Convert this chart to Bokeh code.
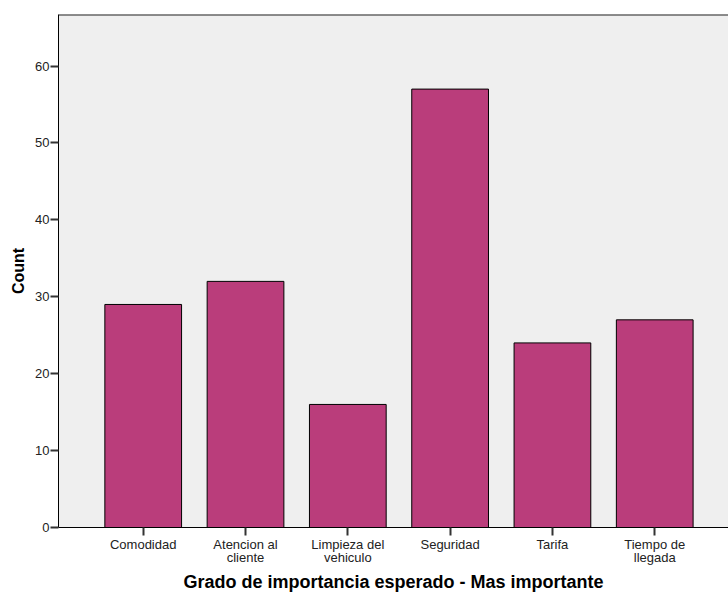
from bokeh.plotting import figure
from bokeh.models import Range1d, FixedTicker, Span, ColumnDataSource
from bokeh.embed import file_html
from bokeh.resources import INLINE

# ---- data ----
categories = ["Comodidad", "Atencion al\ncliente", "Limpieza del\nvehiculo",
              "Seguridad", "Tarifa", "Tiempo de\nllegada"]
counts = [29, 32, 16, 57, 24, 27]
y_ticks = [0, 10, 20, 30, 40, 50, 60]
y_max = 66.7
x_title = "Grado de importancia esperado - Mas importante"
y_title = "Count"

positions = list(range(len(categories)))

FONT = "Liberation Sans"
BAR = "#BA3D7B"
BG = "#EFEFEF"

p = figure(width=728, height=595, output_backend="svg", toolbar_location=None,
           x_range=Range1d(-0.828, 5.721), y_range=Range1d(0, y_max),
           min_border_left=58, min_border_right=0, min_border_top=14,
           min_border_bottom=68)
p.background_fill_color = BG
p.border_fill_color = "white"
p.outline_line_color = None
p.grid.visible = False

src = ColumnDataSource(dict(x=positions, top=counts))
p.vbar(x="x", top="top", width=0.75, source=src, fill_color=BAR,
       line_color="black", line_width=1)

# axes
p.xaxis.ticker = FixedTicker(ticks=positions)
p.xaxis.major_label_overrides = {i: c for i, c in zip(positions, categories)}
p.yaxis.ticker = FixedTicker(ticks=y_ticks)
for ax in (p.xaxis[0], p.yaxis[0]):
    ax.axis_line_color = "black"
    ax.axis_line_width = 1
    ax.major_tick_line_color = "#333333"
    ax.major_tick_line_width = 2
    ax.major_tick_out = 8
    ax.major_tick_in = 0
    ax.minor_tick_line_color = None
    ax.major_label_text_font = FONT
    ax.major_label_text_font_size = "13px"
    ax.major_label_text_color = "#222222"
    ax.major_label_standoff = 1
p.xaxis.major_label_text_line_height = 0.9

p.yaxis.axis_label = y_title
p.yaxis.axis_label_text_font = FONT
p.yaxis.axis_label_text_font_size = "16px"
p.yaxis.axis_label_text_font_style = "bold"
p.yaxis.axis_label_text_color = "black"
p.yaxis.axis_label_standoff = 5

p.xaxis.axis_label = x_title
p.xaxis.axis_label_text_font = FONT
p.xaxis.axis_label_text_font_size = "18px"
p.xaxis.axis_label_text_font_style = "bold"
p.xaxis.axis_label_text_color = "black"
p.xaxis.axis_label_standoff = 4

# top frame line
p.add_layout(Span(location=y_max, dimension="width", line_color="#222222",
                  line_width=2))

open("out.html", "w").write(file_html(p, INLINE))
